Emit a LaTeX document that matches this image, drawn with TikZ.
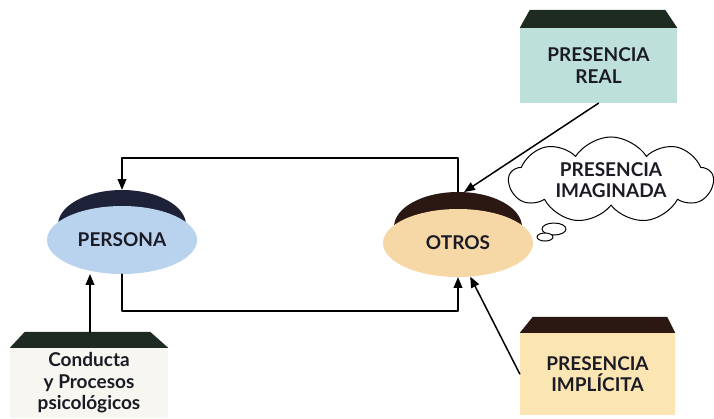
\documentclass[tikz,border=0pt]{standalone}
\usepackage{fontspec}
\setmainfont{Lato}
\usepackage[svgnames]{xcolor}
\usepackage{tikz}
\usetikzlibrary{arrows}
\usetikzlibrary{positioning}
\usetikzlibrary{shapes.geometric,shapes.symbols}
\usetikzlibrary{calc}

\definecolor{TealReal}{HTML}{BDE0DB}
\definecolor{AzulPersona}{HTML}{B9D3EF}
\definecolor{CremaOtros}{HTML}{F6D7A6}
\definecolor{AmarilloImpl}{HTML}{FBE5B2}
\definecolor{BlancoConducta}{HTML}{F7F6F1}
\definecolor{TechoVerde}{HTML}{1D2B20}
\definecolor{TechoMarron}{HTML}{2B1812}
\definecolor{CapaAzul}{HTML}{1E2238}
\definecolor{TextoOscuro}{HTML}{1B1B26}

\tikzset{
  rotulo/.style={font=\fontsize{19}{21.5}\selectfont\bfseries,text=TextoOscuro,align=center},
  caja/.style={rotulo,rectangle,inner sep=0pt},
  disco/.style={rotulo,ellipse,inner sep=0pt,minimum width=150pt,minimum height=68pt},
  capa/.style={ellipse,inner sep=0pt,minimum width=128pt,minimum height=70pt},
  flecha/.style={->,line width=1.5pt,color=black},
  nube/.style={rotulo,cloud,draw=black,line width=1pt,fill=white,cloud puffs=9,cloud puff arc=115,aspect=2.6,minimum width=204pt,minimum height=80pt,inner sep=0pt}
}

\begin{document}
\begin{tikzpicture}[line cap=round,line join=round,>=triangle 45,x=1pt,y=-1pt]
\useasboundingbox (0,0) rectangle (714,418);

% cajas con techo
\node[caja,fill=TealReal,minimum width=157pt,minimum height=75pt] (real) at (598.5,65.5) {PRESENCIA\\REAL};
\fill[TechoVerde] (real.north west) -- ($(real.north west)+(10,-18)$) -- ($(real.north east)+(-12,-18)$) -- (real.north east) -- cycle;

\node[caja,fill=AmarilloImpl,minimum width=155pt,minimum height=82pt] (implicita) at (597.5,374) {PRESENCIA\\IMPL\'ICITA};
\fill[TechoMarron] (implicita.north west) -- ($(implicita.north west)+(13,-16)$) -- ($(implicita.north east)+(-8,-16)$) -- (implicita.north east) -- cycle;

\node[caja,fill=BlancoConducta,minimum width=158pt,minimum height=70pt] (conducta) at (89,383) {Conducta\\y Procesos\\psicol\'ogicos};
\fill[TechoVerde] (conducta.north west) -- ($(conducta.north west)+(15,-16)$) -- ($(conducta.north east)+(-18,-16)$) -- (conducta.north east) -- cycle;
\coordinate (conductatop) at ($(conducta.north)+(1,-16)$);

% discos
\node[capa,fill=CapaAzul] (personacap) at (122,225) {};
\node[disco,fill=AzulPersona] (persona) at (122,240) {PERSONA};
\node[capa,fill=TechoMarron] (otroscap) at (458,227) {};
\node[disco,fill=CremaOtros] (otros) at (458,243) {OTROS};

% nube
\node[nube] (imaginada) at (611,180) {PRESENCIA\\IMAGINADA};
\draw[line width=1pt,fill=white] (554,229) ellipse (12pt and 6pt);
\draw[line width=1pt,fill=white] (545,237) ellipse (8pt and 4pt);

% conexiones
\draw[flecha] (otroscap.north) -- ++(0,-34) -| (personacap.north);
\draw[flecha] (persona.south) -- ++(0,37) -| (otros.south);
\draw[flecha] (conductatop) -- (conductatop |- persona.south);
\draw[flecha] (real.south) -- (otroscap.80);
\draw[flecha] (implicita.west) -- (otros.290);
\end{tikzpicture}
\end{document}
